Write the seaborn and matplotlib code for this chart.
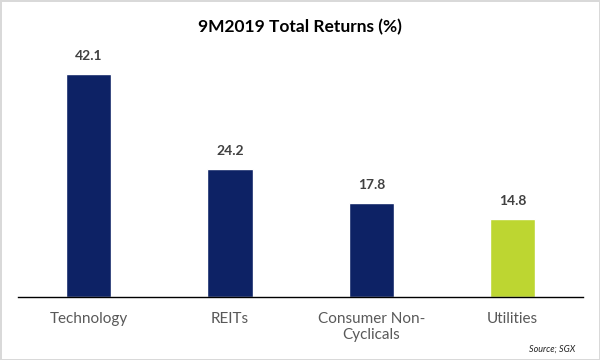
import pandas as pd
import matplotlib.pyplot as plt
import seaborn as sns

# chart data
sectors = ["Technology", "REITs", "Consumer Non-\nCyclicals", "Utilities"]
returns = [42.1, 24.2, 17.8, 14.8]
bar_colors = ["#0D2265", "#0D2265", "#0D2265", "#BDD631"]

df = pd.DataFrame({"Sector": sectors, "Return": returns})

sns.set_style("white")
plt.rcParams['font.family'] = ['Lato', 'DejaVu Sans']

fig = plt.figure(figsize=(6, 3.6), dpi=100, edgecolor="#d9d9d9", linewidth=2)
ax = fig.add_axes([0.03, 0.175, 0.942, 0.6625])

sns.barplot(data=df, x="Sector", y="Return", hue="Sector", palette=bar_colors,
            width=0.32, legend=False, ax=ax, saturation=1)

# value labels above bars
for i, v in enumerate(returns):
    ax.text(i, v + 2.2, f"{v:.1f}", ha="center", va="bottom", fontsize=10,
            color="#404040", fontweight="bold")

ax.set_ylim(0, 45)
ax.set_xlim(-0.5, 3.5)
ax.set_yticks([])
ax.set_xlabel("")
ax.set_ylabel("")
ax.tick_params(axis="x", length=0, pad=11, labelsize=11, labelcolor="#595959")
for side in ["top", "right", "left"]:
    ax.spines[side].set_visible(False)
ax.spines["bottom"].set_color("black")
ax.spines["bottom"].set_linewidth(1)

fig.text(0.5, 0.925, "9M2019 Total Returns (%)", ha="center", va="center",
         fontsize=12.5, fontweight="bold", color="black")
fig.text(0.958, 0.018, "Source; SGX", ha="right", va="bottom", fontsize=6.5,
         style="italic", color="#222222")

fig.savefig("out.png", dpi=100, edgecolor=fig.get_edgecolor())
